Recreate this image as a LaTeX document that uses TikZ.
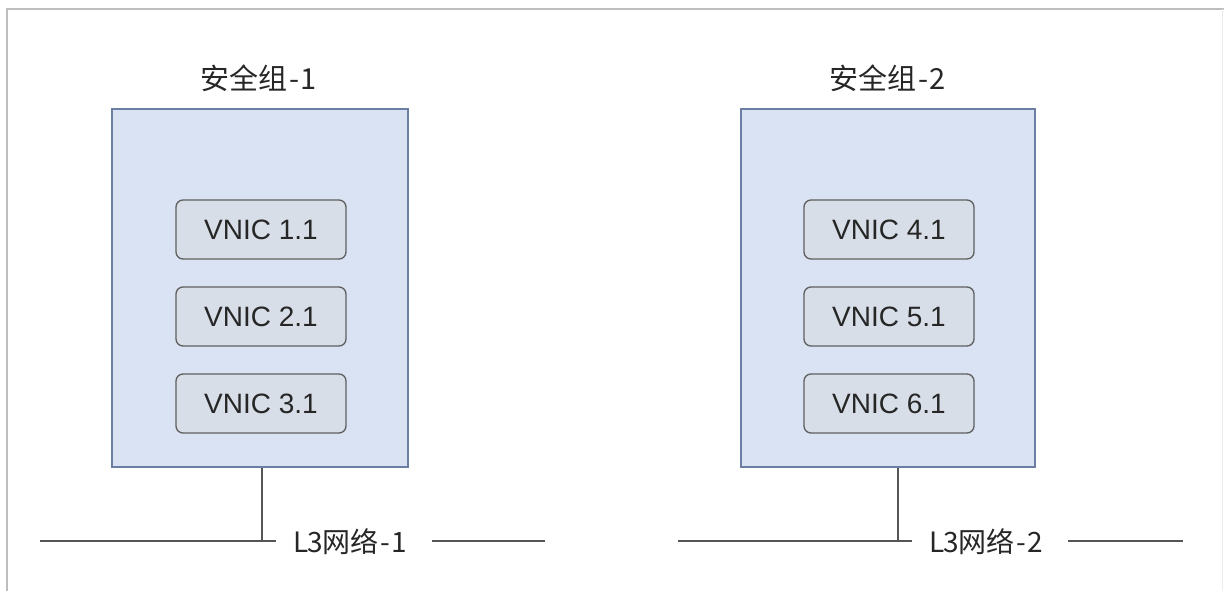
\documentclass[tikz,border=0pt]{standalone}
\usepackage{fontspec}
\setmainfont{Liberation Sans}
\newfontfamily\cjk{Noto Sans CJK SC}
\newcommand{\hw}[1]{\makebox[0.5em]{#1}}
\definecolor{grpfill}{HTML}{DAE3F3}
\definecolor{grpline}{HTML}{6C7FA3}
\definecolor{nicfill}{HTML}{D8DEE8}
\definecolor{nicline}{HTML}{5F5F5F}
\definecolor{frameline}{HTML}{BDBDBD}
\definecolor{netline}{HTML}{555555}
\tikzset{
  grpbox/.style={draw=grpline, fill=grpfill, line width=1.3pt, minimum width=296pt, minimum height=358pt, inner sep=0pt},
  nicbox/.style={draw=nicline, fill=nicfill, line width=1.3pt, rounded corners=7pt, minimum width=170pt, minimum height=59pt, inner sep=0pt, font=\fontsize{28}{32}\selectfont, text=black!85},
  grptitle/.style={font=\cjk\fontsize{29}{32}\selectfont, text=black!85, inner sep=0pt},
  nettitle/.style={font=\cjk\fontsize{28}{32}\selectfont, text=black!85, inner sep=0pt},
  netwire/.style={draw=netline, line width=1.6pt},
}
\begin{document}
\begin{tikzpicture}[x=1pt,y=-1pt]
\useasboundingbox (0,0) rectangle (1224,591);
% frame
\draw[frameline, line width=2pt] (7,591) -- (7,9) -- (1224,9);
\draw[black!8, line width=1pt] (1222,9) -- (1222,591);

% group 1
\node[grpbox] (g1) at (260,288) {};
\node[grptitle] (t1) at (258,78) {安全组\hw{-}\hw{1}};
\node[nicbox] (n11) at (261,229.5) {VNIC 1.1};
\node[nicbox] (n21) at (261,316.5) {VNIC 2.1};
\node[nicbox] (n31) at (261,403.5) {VNIC 3.1};

% group 2
\node[grpbox, minimum width=294pt] (g2) at (888,288) {};
\node[grptitle] (t2) at (887,78) {安全组\hw{-}\hw{2}};
\node[nicbox] (n41) at (889,229.5) {VNIC 4.1};
\node[nicbox] (n51) at (889,316.5) {VNIC 5.1};
\node[nicbox] (n61) at (889,403.5) {VNIC 6.1};

% network 1
\node[nettitle] (l1) at (350,542) {\hw{L}\hw{3}网络\hw{-}\hw{1}};
\coordinate (a1) at (40,541);
\coordinate (j1) at (262,541);
\coordinate (b1) at (545,541);
\draw[netwire] (a1) -- (j1) -- ([xshift=-18pt]l1.west |- j1);
\draw[netwire] (g1.south -| j1) -- (j1);
\draw[netwire] ([xshift=26pt]l1.east |- b1) -- (b1);

% network 2
\node[nettitle] (l2) at (986,542) {\hw{L}\hw{3}网络\hw{-}\hw{2}};
\coordinate (a2) at (678,541);
\coordinate (j2) at (898,541);
\coordinate (b2) at (1183,541);
\draw[netwire] (a2) -- (j2) -- ([xshift=-18pt]l2.west |- j2);
\draw[netwire] (g2.south -| j2) -- (j2);
\draw[netwire] ([xshift=26pt]l2.east |- b2) -- (b2);
\end{tikzpicture}
\end{document}
